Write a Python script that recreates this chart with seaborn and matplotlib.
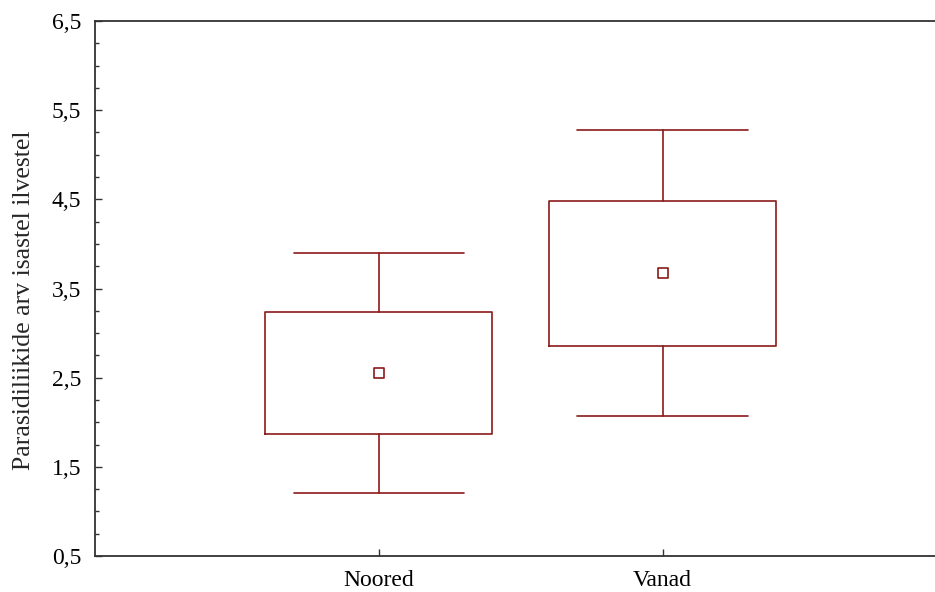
import numpy as np
import matplotlib
matplotlib.use("Agg")
import matplotlib.pyplot as plt
from matplotlib.ticker import MultipleLocator, FixedLocator, FuncFormatter
import seaborn as sns

# andmed (loetud pildilt)
kategooriad = ["Noored", "Vanad"]
keskmised = [2.55, 3.67]
kast_alla = [1.87, 2.86]
kast_yles = [3.24, 4.48]
vurr_alla = [1.21, 2.07]
vurr_yles = [3.90, 5.28]
y_tikid = [0.5, 1.5, 2.5, 3.5, 4.5, 5.5, 6.5]

VARV = "#8b1a1a"

sns.set_theme(style="ticks")
plt.rcParams["font.family"] = ["Liberation Serif", "DejaVu Serif"]

fig = plt.figure(figsize=(9.35, 5.92), dpi=100)
ax = fig.add_axes([0.1016, 0.0608, 0.8984, 0.9037])

pos = np.arange(len(kategooriad))
stats = []
for i, k in enumerate(kategooriad):
    stats.append(dict(label=k, med=keskmised[i], mean=keskmised[i],
                      q1=kast_alla[i], q3=kast_yles[i],
                      whislo=vurr_alla[i], whishi=vurr_yles[i], fliers=[]))

ax.bxp(stats, positions=pos, widths=0.8, capwidths=0.6,
       showfliers=False, showmeans=False,
       boxprops=dict(color=VARV, linewidth=1.2),
       whiskerprops=dict(color=VARV, linewidth=1.2),
       capprops=dict(color=VARV, linewidth=1.2),
       medianprops=dict(linewidth=0))

sns.scatterplot(x=pos, y=keskmised, marker="s", s=45, facecolor="white",
                edgecolor=VARV, linewidth=1.2, zorder=5, ax=ax)

ax.set_xlim(-1.0, 1.96)
ax.set_ylim(0.5, 6.5)
ax.set_xticks(pos)
ax.set_xticklabels(kategooriad)
ax.yaxis.set_major_locator(FixedLocator(y_tikid))
ax.yaxis.set_minor_locator(MultipleLocator(0.25))
ax.yaxis.set_major_formatter(FuncFormatter(lambda v, p: f"{v:.1f}".replace(".", ",")))

ax.tick_params(axis="both", which="major", direction="in", length=5, width=1,
               labelsize=17, color="#333333", labelcolor="black", pad=10)
ax.tick_params(axis="y", which="minor", direction="in", length=3, width=1, color="#333333")
ax.set_ylabel("Parasidiliikide arv isastel ilvestel", fontsize=18.5)
ax.yaxis.set_label_coords(-0.072, 0.478)
ax.set_xlabel("")

for s in ["left", "top", "bottom"]:
    ax.spines[s].set_color("#333333")
    ax.spines[s].set_linewidth(1.3)
ax.spines["right"].set_visible(False)

fig.savefig("out.png", dpi=100)
